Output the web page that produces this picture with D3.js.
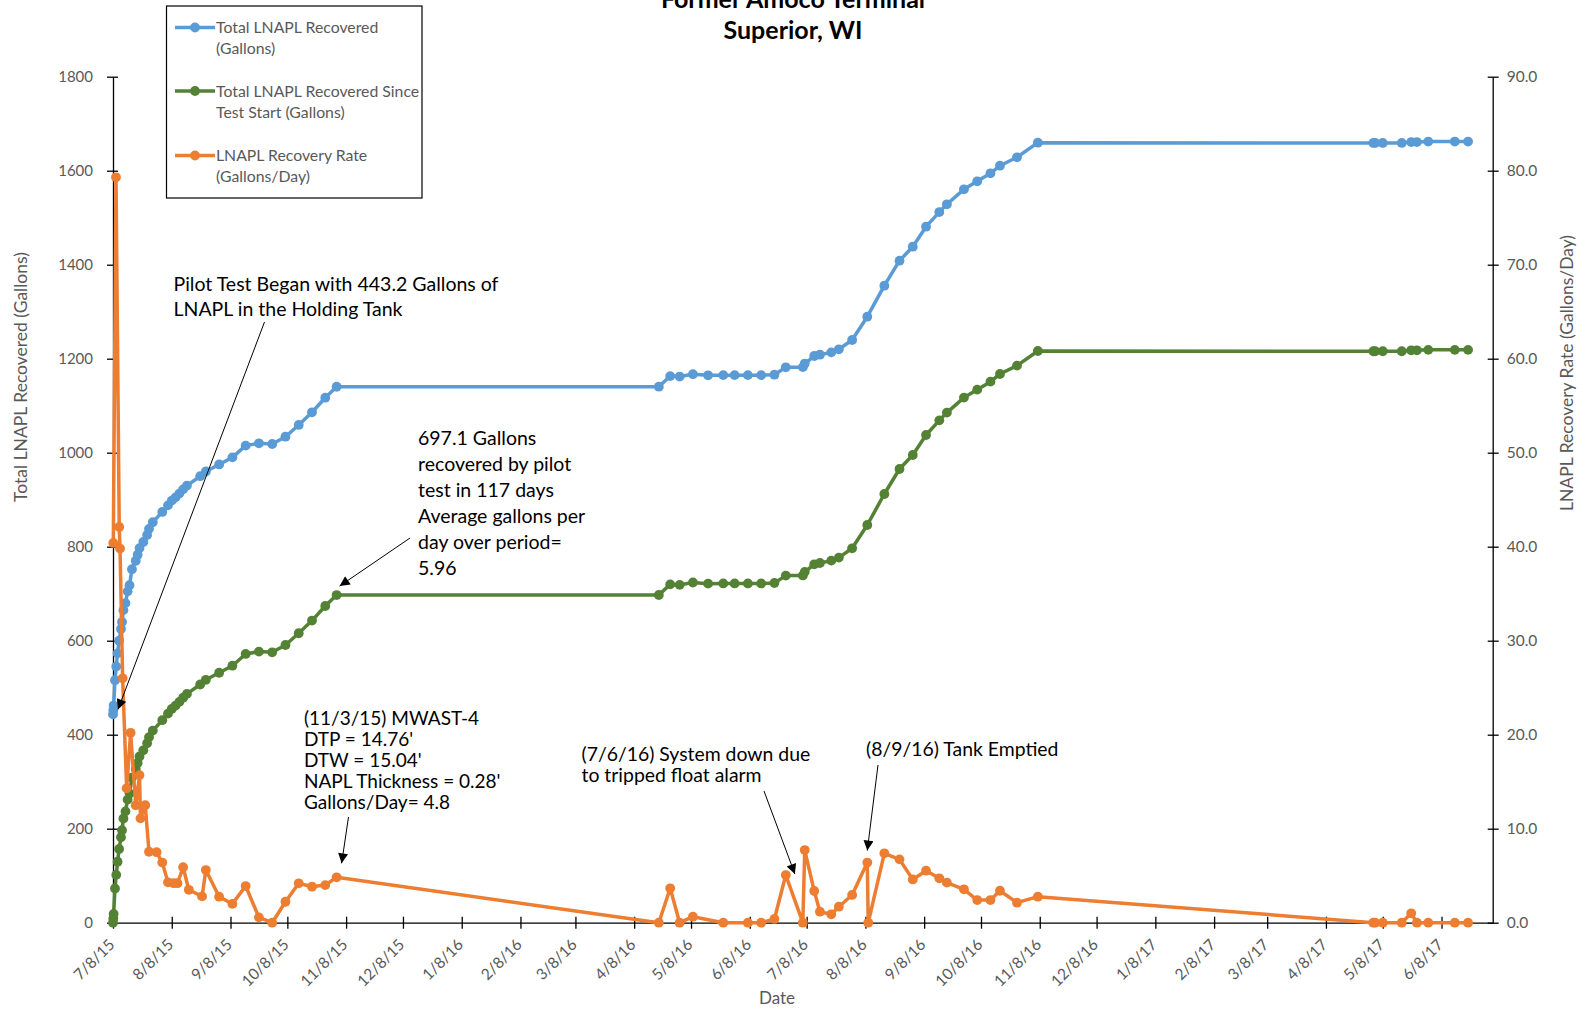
<!DOCTYPE html>
<html><head><meta charset="utf-8">
<script src="https://cdn.jsdelivr.net/npm/d3@7"></script>
<style>
html,body{margin:0;padding:0;background:#fff;}
svg{display:block;}
text{font-family: Lato, "Open Sans", sans-serif;}
</style></head>
<body>
<svg id="chart" width="1583" height="1012"></svg>
<script>
// ---------------- DATA ----------------
const titleLines = ["Former Amoco Terminal", "Superior, WI"];
const xTickLabels = ["7/8/15","8/8/15","9/8/15","10/8/15","11/8/15","12/8/15","1/8/16","2/8/16","3/8/16","4/8/16","5/8/16","6/8/16","7/8/16","8/8/16","9/8/16","10/8/16","11/8/16","12/8/16","1/8/17","2/8/17","3/8/17","4/8/17","5/8/17","6/8/17"];
const leftTicks = [0,200,400,600,800,1000,1200,1400,1600,1800];
const rightTicks = [0,10,20,30,40,50,60,70,80,90];
const xDomain = ["2015-07-08","2017-07-05"];

const totalDates = [
 "2015-07-08 00:00","2015-07-08 04:00","2015-07-08 08:00","2015-07-09 01:00","2015-07-09 17:00","2015-07-10 10:00",
 "2015-07-11 05:00","2015-07-12 05:00","2015-07-12 18:00","2015-07-13 12:00","2015-07-14 14:00","2015-07-15 17:00",
 "2015-07-16 17:00","2015-07-18","2015-07-20","2015-07-21","2015-07-22","2015-07-24","2015-07-26","2015-07-27",
 "2015-07-29","2015-08-03","2015-08-06","2015-08-08","2015-08-10","2015-08-12","2015-08-14","2015-08-16",
 "2015-08-23","2015-08-26","2015-09-02","2015-09-09","2015-09-16","2015-09-23","2015-09-30","2015-10-07",
 "2015-10-14","2015-10-21","2015-10-28","2015-11-03",
 "2016-04-21","2016-04-27","2016-05-02","2016-05-09","2016-05-17","2016-05-25","2016-05-31","2016-06-07",
 "2016-06-14","2016-06-21","2016-06-27","2016-07-06","2016-07-07","2016-07-12","2016-07-15","2016-07-21",
 "2016-07-25","2016-08-01","2016-08-09","2016-08-18","2016-08-26","2016-09-02","2016-09-09","2016-09-16",
 "2016-09-20","2016-09-29","2016-10-06","2016-10-13","2016-10-18","2016-10-27","2016-11-07",
 "2017-05-03","2017-05-04","2017-05-08","2017-05-18","2017-05-23","2017-05-26","2017-06-01","2017-06-15","2017-06-22"
];
const totalRecovered = [
 443.2,452,462,516,545,573,
 600,625,640,665,680,705,
 718,752,770,783,797,810,825,838,
 852,874,888,898,905,913,922,930,
 950,960,975,990,1015,1020,1018.5,1034,
 1059,1086,1117,1140.3,
 1140.4,1163,1162,1167,1164.6,1165,1165,1165,
 1165,1166,1181.7,1182,1189.7,1205.7,1208.5,1213.5,
 1220,1239.8,1289.4,1355.3,1408.5,1438.3,1480.9,1512,
 1528.5,1560.4,1577.4,1594.4,1610.6,1628.5,1659.6,
 1659,1659,1659,1659,1661,1661,1662,1662,1662
];
const sinceStart = [
 0,8.8,18.8,72.8,101.8,129.8,
 156.8,181.8,196.8,221.8,236.8,261.8,
 274.8,308.8,326.8,339.8,353.8,366.8,381.8,394.8,
 408.8,430.8,444.8,454.8,461.8,469.8,478.8,486.8,
 506.8,516.8,531.8,546.8,571.8,576.8,575.3,590.8,
 615.8,642.8,673.8,697.1,
 697.2,719.8,718.8,723.8,721.4,721.8,721.8,721.8,
 721.8,722.8,738.5,738.8,746.5,762.5,765.3,770.3,
 776.8,796.6,846.2,912.1,965.3,995.1,1037.7,1068.8,
 1085.3,1117.2,1134.2,1151.2,1167.4,1185.3,1216.4,
 1215.8,1215.8,1215.8,1215.8,1217.8,1217.8,1218.8,1218.8,1218.8
];
const rateDates = [
 "2015-07-08 04:00","2015-07-09 14:00","2015-07-11 07:00","2015-07-11 17:00","2015-07-13 02:00","2015-07-15 05:00",
 "2015-07-17 07:00","2015-07-20","2015-07-22","2015-07-22 12:00","2015-07-25","2015-07-27","2015-07-31","2015-08-03",
 "2015-08-06","2015-08-09","2015-08-11","2015-08-14","2015-08-17","2015-08-24","2015-08-26","2015-09-02",
 "2015-09-09","2015-09-16","2015-09-23","2015-09-30","2015-10-07","2015-10-14","2015-10-21","2015-10-28","2015-11-03",
 "2016-04-21","2016-04-27","2016-05-02","2016-05-09","2016-05-25","2016-06-07","2016-06-14","2016-06-21",
 "2016-06-27","2016-07-06","2016-07-07","2016-07-12","2016-07-15","2016-07-21","2016-07-25","2016-08-01",
 "2016-08-09","2016-08-09 12:00","2016-08-18","2016-08-26","2016-09-02","2016-09-09","2016-09-16","2016-09-20",
 "2016-09-29","2016-10-06","2016-10-13","2016-10-18","2016-10-27","2016-11-07",
 "2017-05-03","2017-05-04","2017-05-08","2017-05-18","2017-05-23","2017-05-26","2017-06-01","2017-06-15","2017-06-22"
];
const rateValues = [
 40.4,79.3,42.1,39.8,26.0,14.3,
 20.2,12.5,15.7,11.1,12.5,7.55,7.5,6.4,
 4.3,4.2,4.2,5.9,3.5,2.8,5.6,2.77,
 2.0,3.9,0.57,0,2.23,4.19,3.83,4.0,4.83,
 0,3.66,0,0.64,0,0,0,0.4,
 5.07,0,7.73,3.37,1.17,0.89,1.7,2.95,
 6.4,0,7.38,6.74,4.6,5.53,4.72,4.26,
 3.55,2.41,2.41,3.4,2.13,2.77,
 0,0,0,0,1.0,0,0,0,0
];
const seriesNames = [["Total LNAPL Recovered","(Gallons)"],["Total LNAPL Recovered Since","Test Start (Gallons)"],["LNAPL Recovery Rate","(Gallons/Day)"]];
const seriesColors = ["#5B9BD5","#548235","#ED7D31"];

// ---------------- CHART ----------------
const parse = s => (s.length > 10 ? d3.utcParse("%Y-%m-%d %H:%M") : d3.utcParse("%Y-%m-%d"))(s);
const svg = d3.select("#chart");
svg.append("rect").attr("width",1583).attr("height",1012).attr("fill","#fff");

const L = 113, R = 1492.7, T = 76.7, B = 922.7;
const x = d3.scaleUtc().domain(xDomain.map(parse)).range([L, R]);
const yL = d3.scaleLinear().domain([0,1800]).range([B, T]);
const yR = d3.scaleLinear().domain([0,90]).range([B, T]);
const grey = "#595959";

// title
svg.append("text").attr("x",793).attr("y",8).attr("text-anchor","middle")
  .attr("font-weight","bold").attr("font-size",25).attr("fill","#000").text(titleLines[0]);
svg.append("text").attr("x",793).attr("y",39).attr("text-anchor","middle")
  .attr("font-weight","bold").attr("font-size",25).attr("fill","#000").text(titleLines[1]);

// axes
const tickDates = xTickLabels.map(d3.utcParse("%m/%d/%y"));
const gx = svg.append("g").attr("transform",`translate(0,${B})`)
  .call(d3.axisBottom(x).tickValues(tickDates).tickSize(0).tickFormat(d3.utcFormat("%-m/%-d/%y")));
gx.select(".domain").attr("stroke","#000").attr("stroke-width",1.3);
gx.selectAll(".tick line").attr("y1",-6).attr("y2",6).attr("stroke","#000").attr("stroke-width",1.3);
gx.selectAll(".tick text").attr("fill",grey).attr("font-size",15.5).attr("font-family","Lato")
  .attr("text-anchor","end").attr("dy",null).attr("y",null)
  .attr("transform","translate(2,23) rotate(-45)");

const gl = svg.append("g").attr("transform",`translate(${L},0)`)
  .call(d3.axisLeft(yL).tickValues(leftTicks).tickSize(0).tickPadding(20).tickFormat(d3.format("d")));
gl.select(".domain").attr("stroke","#000").attr("stroke-width",1.3);
gl.selectAll(".tick line").attr("x1",-6).attr("x2",5).attr("stroke","#000").attr("stroke-width",1.3);
gl.selectAll(".tick text").attr("fill",grey).attr("font-size",15).attr("font-family","Lato");

const gr = svg.append("g").attr("transform",`translate(${R},0)`)
  .call(d3.axisRight(yR).tickValues(rightTicks).tickSize(0).tickPadding(14).tickFormat(d3.format(".1f")));
gr.select(".domain").attr("stroke","#000").attr("stroke-width",1.3);
gr.selectAll(".tick line").attr("x1",-5).attr("x2",6).attr("stroke","#000").attr("stroke-width",1.3);
gr.selectAll(".tick text").attr("fill",grey).attr("font-size",15.5).attr("font-family","Lato");

// axis titles
svg.append("text").attr("transform","translate(21,377) rotate(-90)").attr("text-anchor","middle")
  .attr("dy","0.35em").attr("fill",grey).attr("font-size",17.5).text("Total LNAPL Recovered (Gallons)");
svg.append("text").attr("transform","translate(1567,373) rotate(-90)").attr("text-anchor","middle")
  .attr("dy","0.35em").attr("fill",grey).attr("font-size",17.5).text("LNAPL Recovery Rate (Gallons/Day)");
svg.append("text").attr("x",777).attr("y",1004).attr("text-anchor","middle")
  .attr("fill",grey).attr("font-size",17).text("Date");

// series
const blue = totalDates.map((d,i)=>({t:parse(d), v:totalRecovered[i]}));
const green = totalDates.map((d,i)=>({t:parse(d), v:sinceStart[i]}));
const orange = rateDates.map((d,i)=>({t:parse(d), v:rateValues[i]}));
function drawSeries(data, y, color){
  const g = svg.append("g");
  g.append("path").datum(data).attr("fill","none").attr("stroke",color).attr("stroke-width",3.5)
    .attr("stroke-linejoin","round").attr("d", d3.line().x(d=>x(d.t)).y(d=>y(d.v)));
  g.selectAll("circle").data(data).join("circle").attr("cx",d=>x(d.t)).attr("cy",d=>y(d.v))
    .attr("r",4.9).attr("fill",color);
}
drawSeries(blue, yL, seriesColors[0]);
drawSeries(green, yL, seriesColors[1]);
drawSeries(orange, yR, seriesColors[2]);

// legend
const lg = svg.append("g");
lg.append("rect").attr("x",166.5).attr("y",6).attr("width",255.5).attr("height",192)
  .attr("fill","#fff").attr("stroke","#000").attr("stroke-width",1.2);
const legY = [27.5, 91, 155.5];
seriesNames.forEach((nm,i)=>{
  lg.append("line").attr("x1",175).attr("x2",215).attr("y1",legY[i]).attr("y2",legY[i])
    .attr("stroke",seriesColors[i]).attr("stroke-width",3.5);
  lg.append("circle").attr("cx",195).attr("cy",legY[i]).attr("r",4.9).attr("fill",seriesColors[i]);
  nm.forEach((s,j)=>{
    lg.append("text").attr("x",216).attr("y",legY[i]+5.5+j*21).attr("fill",grey)
      .attr("font-size",15.8).text(s);
  });
});

// annotations
const defs = svg.append("defs");
defs.append("marker").attr("id","arr").attr("viewBox","0 0 10 10").attr("refX",10).attr("refY",5)
  .attr("markerWidth",12).attr("markerHeight",10).attr("markerUnits","userSpaceOnUse")
  .attr("orient","auto").append("path").attr("d","M0,0 L10,5 L0,10 Z").attr("fill","#000");

function note(lines, x0, y0, lh, fs){
  const t = svg.append("text").attr("fill","#000").attr("font-size",fs);
  lines.forEach((s,i)=> t.append("tspan").attr("x",x0).attr("y",y0+i*lh).text(s));
}
function arrow(x1,y1,x2,y2){
  svg.append("line").attr("x1",x1).attr("y1",y1).attr("x2",x2).attr("y2",y2)
    .attr("stroke","#000").attr("stroke-width",1).attr("marker-end","url(#arr)");
}
note(["Pilot Test Began with 443.2 Gallons of","LNAPL in the Holding Tank"], 173.5, 290.5, 25.2, 19.5);
arrow(264.5, 322, x(blue[0].t)+5, yL(blue[0].v)-5);

note(["697.1 Gallons","recovered by pilot","test in 117 days","Average gallons per","day over period=","5.96"], 418, 445, 25.9, 19.5);
arrow(410, 538, x(green[39].t)+3, yL(green[39].v)-9);

note(["(11/3/15) MWAST-4","DTP = 14.76'","DTW = 15.04'","NAPL Thickness = 0.28'","Gallons/Day= 4.8"], 304, 725, 20.9, 19);
arrow(348.5, 817, x(orange[30].t)+5, yR(orange[30].v)-14);

note(["(7/6/16) System down due","to tripped float alarm"], 581.5, 760.5, 21, 19.4);
arrow(764, 791, x(parse("2016-07-06"))-8, yR(5.07)-1);

note(["(8/9/16) Tank Emptied"], 866, 755.5, 21, 19.4);
arrow(878, 765, x(parse("2016-08-09")), yR(6.4)-12);
</script>
</body></html>
